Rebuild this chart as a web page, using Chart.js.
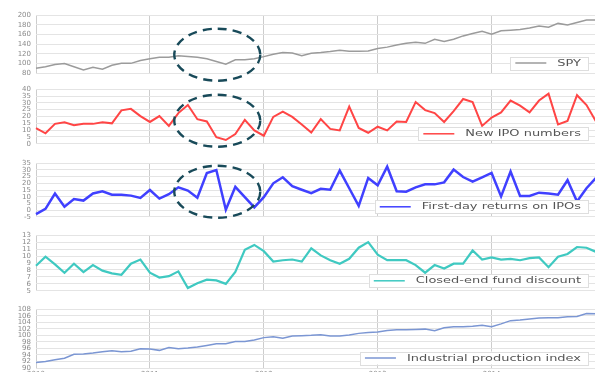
<!DOCTYPE html>
<html>
<head>
<meta charset="utf-8">
<script src="https://cdn.jsdelivr.net/npm/chart.js@4/dist/chart.umd.min.js"></script>
<style>
  html, body { margin: 0; padding: 0; background: #fff; overflow: hidden; width: 595px; height: 372px; }
  canvas { position: absolute; left: 0; }
</style>
</head>
<body>
<canvas id="p0" width="600" height="78" style="top:6px"></canvas>
<canvas id="p1" width="600" height="73" style="top:80px"></canvas>
<canvas id="p2" width="600" height="72" style="top:154px"></canvas>
<canvas id="p3" width="600" height="74" style="top:226px"></canvas>
<canvas id="p4" width="600" height="90" style="top:300px"></canvas>
<script>
// Monthly series, January 2010 – December 2014
const years = ['2010', '2011', '2012', '2013', '2014'];
const monthNums = ['01','02','03','04','05','06','07','08','09','10','11','12'];
const months = years.flatMap(y => monthNums.map(m => y + '-' + m));

const spy = [90, 93, 97.7, 99.7, 93, 86.5, 92, 88, 96, 100,
  100, 106, 109.5, 112.7, 112.7, 116, 114.5, 112.7, 109.5, 104,
  98.3, 107.5, 107.5, 109.5, 114, 119, 122.5, 121.6, 116, 121,
  122.5, 124.5, 127, 125, 125, 125.7, 131, 133.7, 138, 141.6,
  144, 141.6, 150, 145.5, 150, 157, 162, 166.5, 160.6, 167.7,
  169, 170.5, 173.6, 177.6, 175, 183, 179.5, 185, 190, 190];

const ipoCount = [11.4, 7.7, 14.6, 15.7, 13.6, 14.6, 14.6, 15.7, 15, 24.5,
  25.6, 20.3, 16, 20.3, 13.1, 22.5, 28.4, 18, 16.4, 4.8,
  2.8, 7.2, 17.5, 9.8, 5.9, 19.7, 23.6, 19.7, 14.2, 8.3,
  18.1, 10.9, 9.8, 27.3, 11.6, 8.1, 12.5, 9.8, 16.4, 16,
  30.6, 24.7, 22.5, 16, 24, 32.8, 30.6, 13.1, 19.2, 23,
  31.7, 28, 23, 31.7, 36.7, 14.2, 16.8, 35.6, 28.4, 16.4];

const firstDay = [-3, 0.9, 12.4, 2.5, 8.2, 7.1, 12.4, 14.1, 11.5, 11.5,
  10.8, 9.1, 15, 8.6, 11.9, 17, 14.6, 9.3, 27.7, 29.9,
  0.3, 17.4, 9.7, 2, 9.7, 20, 24.5, 17.9, 15.2, 12.6,
  15.9, 15.2, 29.5, 16.3, 3.1, 24, 18.5, 32.4, 14.1, 13.7,
  17, 19.2, 19.2, 20.7, 30.2, 24.7, 21.2, 24.4, 27.7, 10.2,
  28.8, 10.6, 10.6, 13, 12.4, 11.5, 22.3, 6.4, 16.3, 24];

const cefDiscount = [8.6, 9.9, 8.8, 7.6, 8.9, 7.7, 8.7, 7.9, 7.5, 7.3,
  8.9, 9.5, 7.6, 6.9, 7.1, 7.8, 5.4, 6.1, 6.6, 6.5,
  6, 7.7, 10.9, 11.6, 10.7, 9.2, 9.4, 9.5, 9.2, 11.1,
  10.1, 9.4, 8.9, 9.6, 11.2, 12, 10.2, 9.4, 9.4, 9.4,
  8.7, 7.6, 8.7, 8.2, 8.9, 8.9, 10.8, 9.5, 9.8, 9.5,
  9.6, 9.4, 9.7, 9.8, 8.4, 9.9, 10.3, 11.3, 11.2, 10.6];

const indProd = [91.7, 92, 92.5, 93, 94.2, 94.3, 94.6, 95, 95.3, 95,
  95.1, 95.9, 95.8, 95.4, 96.3, 95.9, 96.1, 96.4, 96.9, 97.4,
  97.4, 98.1, 98.1, 98.6, 99.3, 99.6, 99.1, 99.8, 99.9, 100,
  100.2, 99.8, 99.8, 100.1, 100.6, 100.9, 101, 101.5, 101.7, 101.7,
  101.8, 101.9, 101.4, 102.3, 102.6, 102.6, 102.8, 103.1, 102.6, 103.5,
  104.5, 104.7, 105, 105.3, 105.4, 105.4, 105.7, 105.8, 106.7, 106.6];

// Legend box drawn inside the lower-right corner of each plot
const boxLegend = {
  id: 'boxLegend',
  afterDraw(chart) {
    const ds = chart.data.datasets[0];
    const a = chart.chartArea;
    const ctx = chart.ctx;
    const sx = 1.62;
    ctx.save();
    ctx.font = '8px "DejaVu Sans"';
    const tw = ctx.measureText(ds.label).width * sx;
    const right = a.right - 8, bottom = a.bottom - 3.5, h = 13;
    const left = right - (5 + 31 + 11 + tw + 7);
    const top = bottom - h;
    ctx.fillStyle = '#ffffff';
    ctx.fillRect(left, top, right - left, h);
    ctx.strokeStyle = '#dedede';
    ctx.lineWidth = 1;
    ctx.strokeRect(Math.round(left) + 0.5, Math.round(top) + 0.5, Math.round(right - left), h);
    const cy = top + h / 2;
    ctx.strokeStyle = ds.borderColor;
    ctx.lineWidth = 1.5;
    ctx.beginPath();
    ctx.moveTo(left + 5, cy);
    ctx.lineTo(left + 36, cy);
    ctx.stroke();
    ctx.fillStyle = '#555555';
    ctx.textBaseline = 'middle';
    ctx.translate(left + 47, cy + 0.5);
    ctx.scale(sx, 1);
    ctx.fillText(ds.label, 0, 0);
    ctx.restore();
  }
};

// Dashed ellipse highlighting the mid-2011 episode
const ring = {
  id: 'ring',
  afterDatasetsDraw(chart, args, opts) {
    if (!opts || opts.at == null) return;
    const ctx = chart.ctx;
    const cx = chart.scales.x.getPixelForValue(opts.at);
    const cy = chart.scales.y.getPixelForValue(opts.level);
    ctx.save();
    ctx.strokeStyle = '#184a59';
    ctx.lineWidth = 2.4;
    ctx.setLineDash([9, 6]);
    ctx.beginPath();
    ctx.ellipse(cx, cy, 43, 26, 0, 0, Math.PI * 2);
    ctx.stroke();
    ctx.restore();
  }
};

const panels = [
  { id: 'p0', label: 'SPY', data: spy, color: '#9b9b9b', width: 1.5, min: 80, max: 200, step: 20, pad: [6, 11], ring: { at: 19.1, level: 118 } },
  { id: 'p1', label: 'New IPO numbers', data: ipoCount, color: '#ff4545', width: 2, min: 0, max: 40, step: 5, pad: [6, 6], ring: { at: 19.1, level: 16.9 } },
  { id: 'p2', label: 'First-day returns on IPOs', data: firstDay, color: '#4040ff', width: 2.5, min: -5, max: 35, step: 5, pad: [6, 6], ring: { at: 19.1, level: 13.7 } },
  { id: 'p3', label: 'Closed-end fund discount', data: cefDiscount, color: '#3fc9c1', width: 2.2, min: 5, max: 13, step: 1, pad: [6, 6], ring: {} },
  { id: 'p4', label: 'Industrial production index', data: indProd, color: '#7b96d3', width: 1.5, min: 90, max: 108, step: 2, pad: [6, 0], ring: {}, bottomAxis: true }
];

panels.forEach(p => {
  new Chart(document.getElementById(p.id), {
    type: 'line',
    data: {
      labels: months,
      datasets: [{
        label: p.label,
        data: p.data,
        borderColor: p.color,
        backgroundColor: p.color,
        borderWidth: p.width,
        pointRadius: 0,
        tension: 0,
        fill: false
      }]
    },
    options: {
      responsive: false,
      animation: false,
      layout: { padding: { top: p.pad[0], bottom: p.pad[1], left: 0, right: 4 } },
      plugins: {
        legend: { display: false },
        tooltip: { enabled: false },
        ring: p.ring
      },
      scales: {
        x: {
          offset: false,
          border: { display: false },
          grid: {
            drawTicks: false,
            color: c => (c.index % 12 === 0 ? '#cdcdcd' : 'rgba(0,0,0,0)'),
            lineWidth: 1
          },
          ticks: {
            display: !!p.bottomAxis,
            autoSkip: false,
            maxRotation: 0,
            padding: 2,
            color: '#8a8a8a',
            font: { family: 'DejaVu Sans', size: 7 },
            callback: (v, i) => (i % 12 === 0 ? years[i / 12] : '')
          },
          afterFit: s => { s.height = p.bottomAxis ? 22 : 0; }
        },
        y: {
          min: p.min,
          max: p.max,
          border: { display: false },
          grid: { drawTicks: false, color: '#e4e4e4', lineWidth: 1 },
          ticks: {
            stepSize: p.step,
            autoSkip: false,
            padding: 5,
            color: '#8a8a8a',
            font: { family: 'DejaVu Sans', size: 7 }
          },
          afterFit: s => { s.width = 36; }
        }
      }
    },
    plugins: [ring, boxLegend]
  });
});
</script>
</body>
</html>
